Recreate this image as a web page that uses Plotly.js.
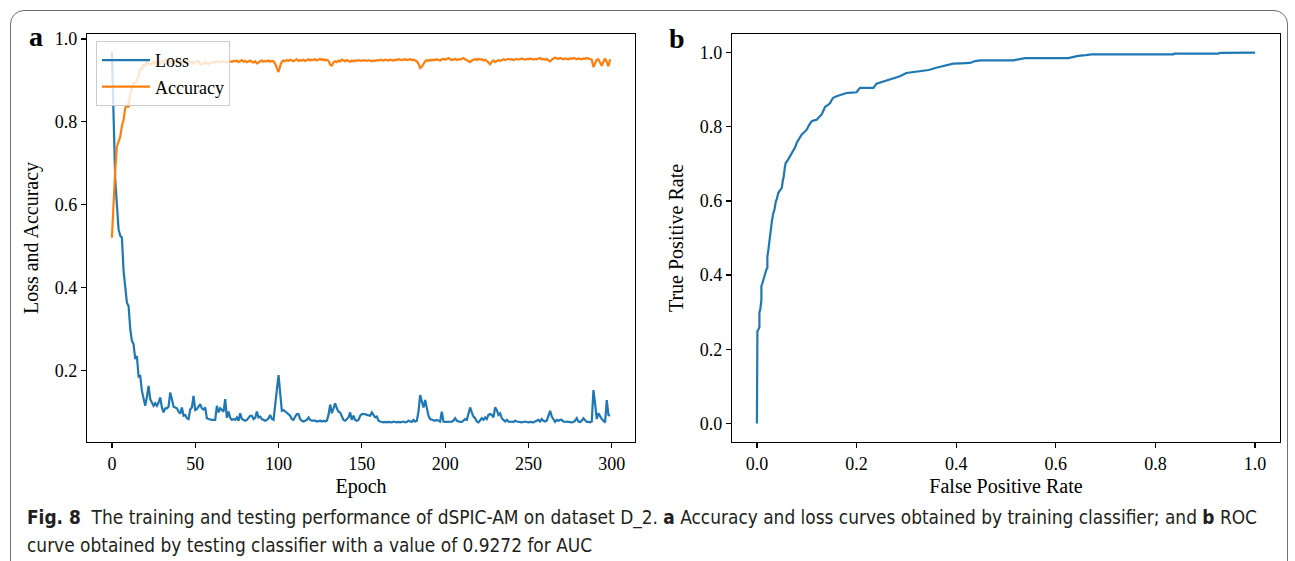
<!DOCTYPE html>
<html>
<head>
<meta charset="utf-8">
<script src="https://cdn.plot.ly/plotly-3.0.1.min.js"></script>
<style>
  html, body { margin: 0; padding: 0; background: #fff; }
  #wrap { position: relative; width: 1295px; height: 561px; overflow: hidden; }
  #chart { position: absolute; left: 0; top: 0; width: 1295px; height: 561px; }
  #frame { position: absolute; left: 10px; top: 10px; width: 1278px; height: 620px;
           border: 1.5px solid #6e6e6e; border-radius: 14px; box-sizing: border-box; pointer-events: none; }
  #caption { position: absolute; left: 27px; top: 503px; font-family: "Liberation Sans Narrow", "DejaVu Sans Condensed", "Open Sans", "Noto Sans", sans-serif;
             font-size: 20px; line-height: 28px; color: #231f20; white-space: nowrap; transform-origin: 0 0; }
  #caption b { font-weight: 700; }
</style>
</head>
<body>
<div id="wrap">
  <div id="chart"></div>
  <div id="frame"></div>
  <div id="caption"><span id="cap1"><b>Fig. 8</b>&nbsp;&nbsp;The training and testing performance of dSPIC-AM on dataset D_2. <b>a</b> Accuracy and loss curves obtained by training classifier; and <b>b</b> ROC</span><br><span id="cap2">curve obtained by testing classifier with a value of 0.9272 for AUC</span></div>
</div>
<script>
// ---- Panel a: training curves (one value per epoch, epochs 0..299) ----
const lossValues = [
0.969,0.80,0.66,0.60,0.54,0.525,0.52,0.44,0.40,0.363,
0.355,0.30,0.271,0.263,0.227,0.234,0.185,0.186,0.15,0.130,
0.114,0.135,0.162,0.13,0.12,0.114,0.12,0.114,0.122,0.134,
0.11,0.098,0.108,0.108,0.112,0.146,0.13,0.112,0.11,0.108,
0.10,0.095,0.11,0.09,0.092,0.084,0.082,0.105,0.11,0.138,
0.104,0.106,0.112,0.118,0.108,0.105,0.11,0.084,0.082,0.08,
0.08,0.08,0.08,0.114,0.098,0.108,0.105,0.10,0.13,0.085,
0.10,0.085,0.08,0.082,0.08,0.086,0.078,0.096,0.082,0.08,
0.078,0.08,0.086,0.09,0.09,0.082,0.085,0.10,0.086,0.088,
0.082,0.08,0.078,0.08,0.084,0.092,0.082,0.08,0.12,0.155,
0.188,0.145,0.102,0.104,0.10,0.098,0.094,0.09,0.082,0.08,
0.088,0.094,0.094,0.082,0.078,0.076,0.078,0.08,0.086,0.08,
0.078,0.078,0.078,0.076,0.078,0.078,0.076,0.078,0.076,0.078,
0.092,0.117,0.096,0.106,0.12,0.108,0.10,0.098,0.09,0.08,
0.078,0.082,0.086,0.098,0.08,0.09,0.08,0.078,0.08,0.09,
0.094,0.094,0.094,0.092,0.09,0.09,0.098,0.092,0.086,0.088,
0.078,0.076,0.075,0.074,0.075,0.074,0.075,0.075,0.074,0.076,
0.075,0.074,0.075,0.074,0.075,0.076,0.074,0.075,0.078,0.076,
0.075,0.08,0.076,0.078,0.10,0.14,0.125,0.11,0.128,0.11,
0.09,0.082,0.08,0.078,0.078,0.08,0.078,0.076,0.10,0.076,
0.075,0.075,0.075,0.076,0.076,0.078,0.084,0.078,0.076,0.075,
0.075,0.078,0.082,0.08,0.094,0.11,0.098,0.088,0.084,0.076,
0.074,0.078,0.084,0.08,0.086,0.082,0.092,0.094,0.092,0.086,
0.11,0.104,0.092,0.096,0.084,0.08,0.076,0.08,0.076,0.075,
0.076,0.075,0.078,0.076,0.075,0.075,0.074,0.075,0.076,0.075,
0.074,0.075,0.075,0.074,0.076,0.078,0.08,0.076,0.082,0.078,
0.076,0.078,0.09,0.102,0.088,0.08,0.075,0.08,0.078,0.08,
0.08,0.076,0.075,0.076,0.075,0.075,0.074,0.075,0.078,0.084,
0.076,0.075,0.078,0.084,0.078,0.075,0.075,0.074,0.076,0.152,
0.12,0.082,0.096,0.088,0.082,0.078,0.074,0.128,0.092,0.09
];
const accuracyValues = [
0.52,0.62,0.684,0.74,0.755,0.764,0.79,0.805,0.833,0.841,
0.835,0.869,0.88,0.893,0.895,0.90,0.91,0.93,0.925,0.937,
0.935,0.945,0.94,0.938,0.941,0.945,0.94,0.943,0.945,0.938,
0.947,0.944,0.949,0.946,0.944,0.948,0.942,0.945,0.947,0.943,
0.946,0.948,0.944,0.941,0.945,0.947,0.949,0.943,0.946,0.940,
0.944,0.947,0.945,0.940,0.938,0.942,0.944,0.941,0.939,0.943,
0.945,0.942,0.944,0.946,0.943,0.945,0.944,0.946,0.943,0.945,
0.944,0.946,0.945,0.947,0.946,0.948,0.944,0.946,0.949,0.945,
0.947,0.944,0.946,0.948,0.945,0.943,0.946,0.941,0.943,0.947,
0.948,0.945,0.947,0.946,0.948,0.945,0.947,0.946,0.940,0.928,
0.920,0.935,0.945,0.948,0.946,0.949,0.947,0.950,0.948,0.946,
0.949,0.951,0.947,0.949,0.948,0.950,0.947,0.949,0.951,0.948,
0.950,0.949,0.951,0.948,0.950,0.952,0.949,0.951,0.948,0.950,
0.947,0.938,0.936,0.943,0.946,0.944,0.948,0.946,0.950,0.948,
0.946,0.949,0.947,0.945,0.948,0.946,0.948,0.947,0.949,0.948,
0.947,0.949,0.948,0.947,0.949,0.948,0.946,0.948,0.947,0.949,
0.948,0.950,0.949,0.948,0.950,0.949,0.948,0.950,0.949,0.948,
0.950,0.949,0.951,0.950,0.949,0.950,0.951,0.949,0.950,0.951,
0.949,0.950,0.948,0.946,0.940,0.930,0.933,0.941,0.946,0.949,
0.947,0.950,0.948,0.950,0.949,0.951,0.950,0.948,0.951,0.952,
0.950,0.953,0.954,0.951,0.949,0.950,0.952,0.949,0.951,0.950,
0.953,0.954,0.951,0.949,0.946,0.944,0.948,0.950,0.951,0.949,
0.952,0.950,0.951,0.948,0.950,0.947,0.944,0.939,0.945,0.948,
0.944,0.946,0.949,0.947,0.950,0.951,0.949,0.950,0.952,0.950,
0.951,0.949,0.951,0.952,0.950,0.951,0.953,0.951,0.950,0.952,
0.951,0.953,0.952,0.950,0.952,0.951,0.953,0.954,0.951,0.952,
0.950,0.952,0.948,0.946,0.950,0.953,0.955,0.953,0.952,0.954,
0.952,0.951,0.953,0.952,0.951,0.953,0.952,0.954,0.953,0.951,
0.953,0.952,0.951,0.953,0.952,0.954,0.953,0.952,0.950,0.932,
0.942,0.950,0.951,0.943,0.935,0.945,0.953,0.944,0.934,0.951
];
const epochTicks = [0, 50, 100, 150, 200, 250, 300];
const accTicks = [0.2, 0.4, 0.6, 0.8, 1.0];

// ---- Panel b: ROC curve ----
const fprValues = [0,0,0.001,0.001,0.003,0.005,0.005,0.007,0.009,0.009,
0.011,0.013,0.015,0.017,0.019,0.021,0.021,0.023,0.025,0.026,
0.028,0.030,0.033,0.035,0.038,0.040,0.043,0.046,0.050,0.052,
0.054,0.056,0.058,0.062,0.066,0.070,0.073,0.077,0.080,0.085,
0.090,0.095,0.100,0.105,0.110,0.115,0.120,0.125,0.130,0.134,
0.137,0.142,0.147,0.150,0.153,0.160,0.167,0.174,0.180,0.190,
0.200,0.207,0.220,0.234,0.240,0.250,0.260,0.275,0.287,0.300,
0.315,0.334,0.345,0.360,0.375,0.394,0.410,0.428,0.438,0.448,
0.515,0.538,0.625,0.645,0.660,0.672,0.836,0.838,0.926,0.929,1.0];
const tprValues = [0,0.168,0.172,0.249,0.253,0.26,0.298,0.31,0.333,0.37,
0.378,0.388,0.40,0.41,0.415,0.419,0.45,0.468,0.49,0.51,
0.532,0.545,0.568,0.575,0.599,0.605,0.622,0.628,0.635,0.655,
0.667,0.69,0.703,0.71,0.72,0.728,0.739,0.745,0.757,0.768,
0.779,0.785,0.792,0.805,0.815,0.817,0.819,0.826,0.833,0.845,
0.854,0.858,0.864,0.872,0.878,0.882,0.885,0.888,0.891,0.892,
0.893,0.905,0.905,0.905,0.916,0.92,0.924,0.930,0.936,0.945,
0.947,0.950,0.953,0.959,0.963,0.970,0.971,0.972,0.977,0.979,
0.979,0.985,0.985,0.991,0.993,0.995,0.995,0.997,0.997,0.999,1.0];
const rateTicks = [0.0, 0.2, 0.4, 0.6, 0.8, 1.0];

const W = 1295, H = 561;
const px = v => v / W;
const py = v => 1 - v / H;
const serif = '"Liberation Serif", "Times New Roman", serif';
const blue = '#1f77b4', orange = '#ff7f0e';

const axisCommon = {
  showgrid: false, zeroline: false, showline: true, mirror: true,
  linecolor: '#000', linewidth: 1.2, ticks: 'outside', ticklen: 5, tickwidth: 1.2, tickcolor: '#000',
  tickfont: { family: serif, size: 18, color: '#000' }, fixedrange: true
};

const traces = [
  { type: 'scatter', mode: 'lines', name: 'Loss', x0: 0, dx: 1, y: lossValues,
    line: { color: blue, width: 2.2 }, xaxis: 'x', yaxis: 'y' },
  { type: 'scatter', mode: 'lines', name: 'Accuracy', x0: 0, dx: 1, y: accuracyValues,
    line: { color: orange, width: 2.2 }, xaxis: 'x', yaxis: 'y' },
  { type: 'scatter', mode: 'lines', name: 'ROC', x: fprValues, y: tprValues,
    line: { color: blue, width: 2.2 }, xaxis: 'x2', yaxis: 'y2', showlegend: false }
];

const layout = {
  width: W, height: H,
  margin: { l: 0, r: 0, t: 0, b: 0 },
  paper_bgcolor: 'rgba(0,0,0,0)', plot_bgcolor: '#fff',
  showlegend: true,
  xaxis: Object.assign({}, axisCommon, {
    domain: [px(87), px(635)], range: [-14.95, 313.95], tickvals: epochTicks,
    title: { text: 'Epoch', font: { family: serif, size: 20, color: '#000' }, standoff: 6 }, anchor: 'y'
  }),
  yaxis: Object.assign({}, axisCommon, {
    domain: [py(442), py(34)], range: [0.0266, 1.012], tickvals: accTicks, tickformat: '.1f',
    title: { text: 'Loss and Accuracy', font: { family: serif, size: 20, color: '#000' }, standoff: 10 }, anchor: 'x'
  }),
  xaxis2: Object.assign({}, axisCommon, {
    domain: [px(732), px(1280)], range: [-0.05, 1.05], tickvals: rateTicks, tickformat: '.1f',
    title: { text: 'False Positive Rate', font: { family: serif, size: 20, color: '#000' }, standoff: 6 }, anchor: 'y2'
  }),
  yaxis2: Object.assign({}, axisCommon, {
    domain: [py(442), py(34)], range: [-0.05, 1.05], tickvals: rateTicks, tickformat: '.1f',
    title: { text: 'True Positive Rate', font: { family: serif, size: 20, color: '#000' }, standoff: 10 }, anchor: 'x2'
  }),
  legend: {
    x: px(96), y: py(41), xanchor: 'left', yanchor: 'top',
    bgcolor: 'rgba(255,255,255,0.8)', bordercolor: '#cccccc', borderwidth: 1,
    font: { family: serif, size: 18, color: '#000' }, itemwidth: 48, tracegroupgap: 0
  },
  annotations: [
    { text: '<b>a</b>', xref: 'paper', yref: 'paper', x: px(36), y: py(37), xanchor: 'center', yanchor: 'middle',
      showarrow: false, font: { family: serif, size: 28, color: '#000' } },
    { text: '<b>b</b>', xref: 'paper', yref: 'paper', x: px(677), y: py(38), xanchor: 'center', yanchor: 'middle',
      showarrow: false, font: { family: serif, size: 28, color: '#000' } }
  ]
};

Plotly.newPlot('chart', traces, layout, { staticPlot: true, displayModeBar: false });

function fitCaption() {
  const cap = document.getElementById('caption');
  const l1 = document.getElementById('cap1');
  cap.style.transform = 'none';
  const w = l1.getBoundingClientRect().width;
  if (w > 0) cap.style.transform = 'scaleX(' + (1230 / w) + ')';
}
if (document.fonts && document.fonts.ready) { document.fonts.ready.then(fitCaption); } else { fitCaption(); }
fitCaption();
</script>
</body>
</html>
